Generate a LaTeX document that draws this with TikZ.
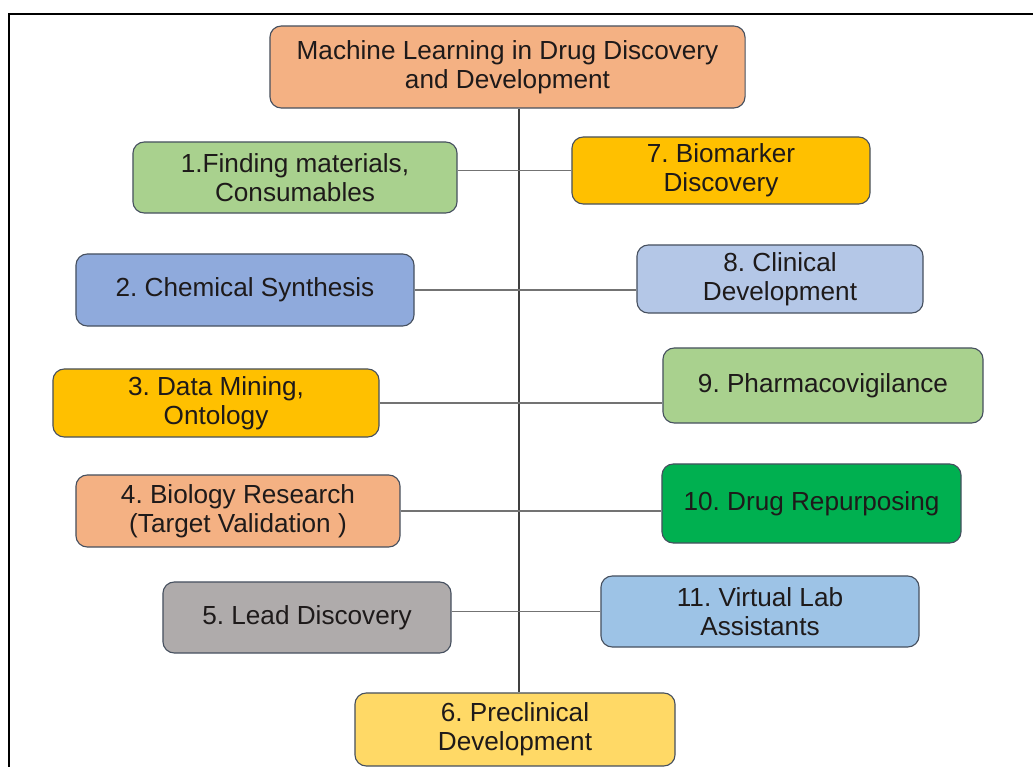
\documentclass[tikz,border=0pt]{standalone}
\usepackage{fontspec}
\setmainfont{Liberation Sans}
\usepackage{xcolor}
\definecolor{cOrange}{HTML}{F4B183}
\definecolor{cGreen}{HTML}{A9D18E}
\definecolor{cGold}{HTML}{FFC000}
\definecolor{cBlue}{HTML}{8FAADC}
\definecolor{cGrey}{HTML}{AFABAB}
\definecolor{cYellow}{HTML}{FFD966}
\definecolor{cPale}{HTML}{B4C7E7}
\definecolor{cDeep}{HTML}{00B050}
\definecolor{cSky}{HTML}{9DC3E6}
\definecolor{cEdge}{HTML}{46505F}
\definecolor{cText}{HTML}{1E1A1A}
\frenchspacing

\begin{document}
\begin{tikzpicture}
[x=0.025cm,y=-0.025cm,
 every node/.style={draw=cEdge,line width=0.8pt,rounded corners=8pt,align=center,inner sep=0pt,
   text=cText,font=\fontsize{18.6}{20.6}\selectfont},
 size/.style 2 args={minimum width=#1*0.7113pt,minimum height=#2*0.7113pt},
 link/.style={draw=black!55,line width=0.8pt}]

  \useasboundingbox (0,0) rectangle (1033,767);
  \draw[line width=1.5pt] (9,767) -- (9,14) -- (1033,14);

  \node[fill=cOrange,size={475}{82}] (title) at (507.5,67) {Machine Learning in Drug Discovery\\and Development};

  \node[fill=cGreen,size={324}{71}] (n1) at (295,177.5) {1.Finding materials,\\Consumables};
  \node[fill=cBlue,size={338}{72}] (n2) at (245,290) {2. Chemical Synthesis};
  \node[fill=cGold,size={326}{68}] (n3) at (216,403) {3. Data Mining,\\Ontology};
  \node[fill=cOrange,size={324}{72}] (n4) at (238,511) {4. Biology Research\\(Target Validation )};
  \node[fill=cGrey,size={288}{71}] (n5) at (307,617.5) {5. Lead Discovery};
  \node[fill=cYellow,size={320}{73}] (n6) at (515,729.5) {6. Preclinical\\Development};

  \node[fill=cGold,size={298}{67}] (n7) at (721,170.5) {7. Biomarker\\Discovery};
  \node[fill=cPale,size={286}{68}] (n8) at (780,279) {8. Clinical\\Development};
  \node[fill=cGreen,size={320}{75}] (n9) at (823,385.5) {9. Pharmacovigilance};
  \node[fill=cDeep,size={299}{79}] (n10) at (811.5,503.5) {10. Drug Repurposing};
  \node[fill=cSky,size={318}{71}] (n11) at (760,611.5) {11. Virtual Lab\\Assistants};

  \coordinate (spine) at (519,400);
  \draw[line width=1.1pt,black!75] (title.south -| spine) -- (n6.north -| spine);

  \foreach \from/\to in {n1/n7, n5/n11}
    \draw[link] (\from.east |- \to.west) -- (\to.west);
  \foreach \from/\to in {n2/n8, n3/n9, n4/n10}
    \draw[link] (\from.east) -- (\from.east -| \to.west);

\end{tikzpicture}
\end{document}
